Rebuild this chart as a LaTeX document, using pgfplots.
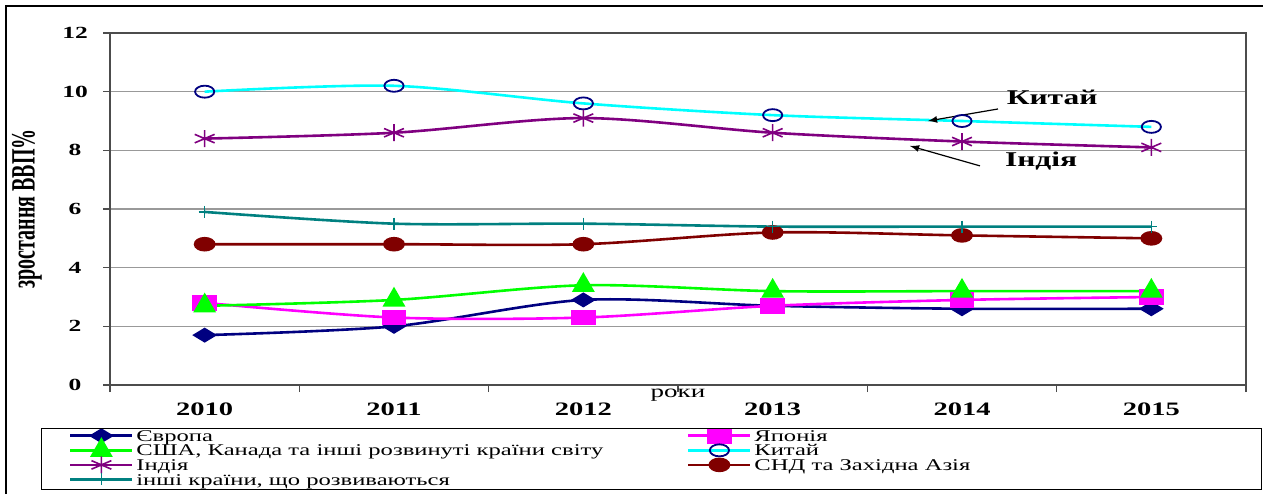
\documentclass[border=0pt]{standalone}
\usepackage{fontspec}
\setmainfont{Liberation Serif}[FakeStretch=1.5]
\newfontfamily\plainserif{Liberation Serif}
\usepackage{pgfplots}
\pgfplotsset{compat=1.18}

\definecolor{cEur}{RGB}{0,0,128}
\definecolor{cJap}{RGB}{255,0,255}
\definecolor{cUsa}{RGB}{0,255,0}
\definecolor{cChn}{RGB}{0,255,255}
\definecolor{cInd}{RGB}{128,0,128}
\definecolor{cCis}{RGB}{128,0,0}
\definecolor{cOth}{RGB}{0,128,128}

\begin{document}
\begin{tikzpicture}
\useasboundingbox (0,0) rectangle (631.5pt,247pt);
% outer frame (left and top edges are visible)
\draw[line width=1pt] (3pt,0) -- (3pt,244pt) -- (631.5pt,244pt);

\begin{axis}[
    at={(55pt,54.5pt)}, anchor=south west,
    scale only axis, width=568pt, height=176pt,
    xmin=-0.5, xmax=5.5, ymin=0, ymax=12,
    ytick={0,2,...,12},
    xtick={-0.5,0.5,...,5.5}, xticklabels={},
    extra x ticks={0,1,2,3,4,5},
    extra x tick labels={2010,2011,2012,2013,2014,2015},
    extra x tick style={major tick length=0pt, grid=none},
    tick pos=left, tick align=outside,
    major tick length=3.5pt,
    tick style={draw=gray!60!black, line width=0.6pt},
    ymajorgrids, grid style={draw=gray!80, line width=0.6pt},
    axis line style={draw=gray!60!black, line width=0.7pt},
    /pgf/number format/assume math mode=true,
    xticklabel style={font=\fontsize{9.5}{10}\selectfont\bfseries, anchor=center, yshift=-12pt},
    yticklabel style={font=\fontsize{8.5}{9}\selectfont\bfseries, anchor=center, xshift=-14pt},
    xlabel={роки},
    xlabel style={font=\fontsize{9}{10}\selectfont, at={(axis description cs:0.5,0)}, anchor=center, yshift=-5pt},
    ylabel={\scalebox{1}[1.7]{\plainserif\bfseries\fontsize{10}{10}\selectfont зростання ВВП\%}},
    ylabel style={at={(axis description cs:0,0.5)}, anchor=center, yshift=41.5pt},
    every axis plot/.append style={smooth, line width=1.3pt},
    legend columns=2,
    legend cell align=left,
    legend style={at={(-0.0352,-0.1170)}, anchor=north west, draw=none, fill=none,
        font=\fontsize{8.2}{8}\selectfont, inner sep=0pt, row sep=-1.8pt,
        nodes={inner sep=0pt, text height=5.5pt, text depth=1.65pt},
        /tikz/every odd column/.append style={column sep=2pt}},
    legend image code/.code={\path[draw=none,fill=none] (0pt,-1.65pt) rectangle (31pt,5.5pt);
        \draw[overlay,mark repeat=2,mark phase=2,#1]
        plot coordinates {(0pt,0.9pt) (15.5pt,0.9pt) (31pt,0.9pt)};},
]
\addplot[color=cEur, mark=diamond*, mark size=3pt, mark options={xscale=2.2, fill=cEur}]
  coordinates {(0,1.7) (1,2.0) (2,2.9) (3,2.7) (4,2.6) (5,2.6)};
\addlegendentry{\makebox[276pt][l]{Європа}}
\addplot[color=cJap, mark=square*, mark size=3.25pt, mark options={xscale=1.7, fill=cJap}]
  coordinates {(0,2.8) (1,2.3) (2,2.3) (3,2.7) (4,2.9) (5,3.0)};
\addlegendentry{Японія}
\addplot[color=cUsa, mark=triangle*, mark size=5.3pt, mark options={fill=cUsa}]
  coordinates {(0,2.7) (1,2.9) (2,3.4) (3,3.2) (4,3.2) (5,3.2)};
\addlegendentry{\makebox[276pt][l]{США, Канада та інші розвинуті країни світу}}
\addplot[color=cChn, mark=o, mark size=3pt, mark options={xscale=1.6, draw=cEur, line width=0.9pt}]
  coordinates {(0,10.0) (1,10.2) (2,9.6) (3,9.2) (4,9.0) (5,8.8)};
\addlegendentry{Китай}
\addplot[color=cInd, mark=asterisk, mark size=4.25pt, mark options={xscale=1.35, line width=0.8pt}]
  coordinates {(0,8.4) (1,8.6) (2,9.1) (3,8.6) (4,8.3) (5,8.1)};
\addlegendentry{\makebox[276pt][l]{Індія}}
\addplot[color=cCis, mark=*, mark size=3pt, mark options={xscale=1.6, fill=cCis}]
  coordinates {(0,4.8) (1,4.8) (2,4.8) (3,5.2) (4,5.1) (5,5.0)};
\addlegendentry{СНД та Західна Азія}
\addplot[color=cOth, mark=+, mark size=3pt, mark options={line width=0.8pt}]
  coordinates {(0,5.9) (1,5.5) (2,5.5) (3,5.4) (4,5.4) (5,5.4)};
\addlegendentry{\makebox[276pt][l]{інші країни, що розвиваються}}

% annotations
\node[font=\fontsize{10.5}{11}\selectfont\bfseries] at (axis cs:4.476,9.80) {Китай};
\node[font=\fontsize{10.5}{11}\selectfont\bfseries] at (axis cs:4.418,7.65) {Індія};
\draw[-latex, line width=0.6pt] (axis cs:4.19,9.41) -- (axis cs:3.82,9.0);
\draw[-latex, line width=0.6pt] (axis cs:4.095,7.47) -- (axis cs:3.725,8.15);
\end{axis}

% legend frame
\draw[line width=0.5pt] (20.5pt,2.5pt) rectangle (630.5pt,33pt);
\end{tikzpicture}
\end{document}
